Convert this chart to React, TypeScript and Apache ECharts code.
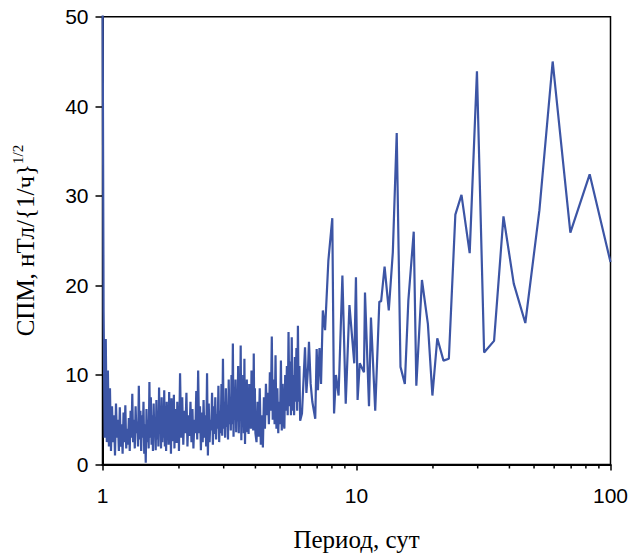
import { useEffect, useRef } from "react";
import * as echarts from "echarts";

// [period (days), spectral density]
const spectrum1to2: [number, number][] = [
  [1, 56], [1.01, 17], [1.02, 3], [1.03, 14], [1.04, 2.5], [1.05, 10.5], [1.06, 2], [1.07, 8.5], [1.08, 1.5], [1.09, 6.5],
  [1.1, 2.5], [1.11, 5.5], [1.12, 1], [1.13, 6.8], [1.14, 3], [1.15, 5], [1.16, 1.5], [1.17, 6.4], [1.18, 2], [1.19, 4.5],
  [1.2, 1.2], [1.21, 5.8], [1.22, 2.5], [1.23, 6.6], [1.24, 1.8], [1.25, 4], [1.26, 2.2], [1.27, 5.2], [1.28, 1.5], [1.29, 6],
  [1.3, 3], [1.31, 7.9], [1.32, 2.5], [1.33, 5], [1.34, 1.8], [1.35, 6.5], [1.36, 3.5], [1.37, 4.8], [1.38, 2], [1.39, 8.8],
  [1.4, 2.8], [1.41, 6], [1.42, 1.5], [1.43, 5.5], [1.44, 3], [1.45, 7], [1.46, 1.2], [1.47, 4.5], [1.48, 0.2], [1.49, 6.2],
  [1.5, 2.5], [1.51, 5], [1.52, 1.8], [1.53, 9.2], [1.54, 3], [1.55, 7.5], [1.56, 2.2], [1.57, 5.5], [1.58, 1.5], [1.59, 6.8],
  [1.6, 3.2], [1.61, 4.5], [1.62, 1.6], [1.63, 7.2], [1.64, 2.8], [1.65, 5.8], [1.66, 2], [1.67, 8.6], [1.68, 3.5], [1.69, 6],
  [1.7, 1.8], [1.71, 7.5], [1.72, 2.5], [1.73, 5], [1.74, 3], [1.75, 8.3], [1.76, 2], [1.77, 6.5], [1.78, 1.5], [1.79, 7],
  [1.8, 3.2], [1.81, 5.5], [1.82, 2.2], [1.83, 8.1], [1.84, 3.8], [1.85, 6], [1.86, 1.2], [1.87, 7.4], [1.88, 2.6], [1.89, 5.2],
  [1.9, 3], [1.91, 7.8], [1.92, 1.8], [1.93, 6.2], [1.94, 3.5], [1.95, 5], [1.96, 2.4], [1.97, 7], [1.98, 3], [1.99, 6],
  [2, 1.5],
];

const spectrum2to4: [number, number][] = [
  [2.02, 10.2], [2.04, 3], [2.06, 7.5], [2.08, 2.2], [2.1, 6], [2.12, 3.5], [2.14, 8], [2.16, 2], [2.18, 5.5], [2.2, 3.2],
  [2.22, 7], [2.24, 2.5], [2.26, 6.2], [2.28, 1.8], [2.3, 5], [2.32, 3.5], [2.34, 8.2], [2.36, 2.8], [2.38, 10.5], [2.4, 3.5],
  [2.42, 6.5], [2.44, 1.6], [2.46, 5.8], [2.48, 2.5], [2.5, 7.2], [2.52, 3], [2.54, 5.5], [2.56, 2], [2.58, 10.2], [2.6, 1],
  [2.62, 6.8], [2.64, 2.5], [2.66, 5], [2.68, 3.8], [2.7, 8], [2.72, 2.2], [2.74, 6.5], [2.76, 3.4], [2.78, 7.5], [2.8, 2.8],
  [2.82, 5.6], [2.84, 4], [2.86, 8.8], [2.88, 2.5], [2.9, 6], [2.92, 3.5], [2.94, 9], [2.96, 3.2], [2.98, 11.8], [3, 4],
  [3.02, 7], [3.04, 3], [3.06, 8.5], [3.08, 4.2], [3.1, 6.5], [3.12, 2.8], [3.14, 9.5], [3.16, 4.5], [3.18, 7.2], [3.2, 3.8],
  [3.22, 10], [3.24, 4.5], [3.26, 13.5], [3.28, 3.1], [3.3, 8], [3.32, 5], [3.34, 9.5], [3.36, 3.6], [3.38, 7.5], [3.4, 4.8],
  [3.42, 11], [3.44, 3.5], [3.46, 8.5], [3.48, 5.5], [3.5, 13.3], [3.52, 2.7], [3.54, 7.8], [3.56, 4.5], [3.58, 10], [3.6, 3.5],
  [3.62, 11.8], [3.64, 2.3], [3.66, 8], [3.68, 4.2], [3.7, 9.5], [3.72, 3.6], [3.74, 7], [3.76, 3.4], [3.78, 9], [3.8, 5],
  [3.82, 8], [3.84, 4], [3.86, 10.5], [3.88, 4.5], [3.9, 7.5], [3.92, 3.8], [3.94, 12.4], [3.96, 4.5], [3.98, 8.5], [4, 3.5],
];

const spectrum4to6: [number, number][] = [
  [4.04, 2.5], [4.08, 7], [4.12, 3.1], [4.16, 8.5], [4.2, 2.2], [4.24, 5.5], [4.28, 1.9], [4.32, 7.5], [4.36, 4], [4.4, 9],
  [4.44, 5.5], [4.48, 8], [4.52, 4.5], [4.56, 10.3], [4.6, 6], [4.64, 14.3], [4.68, 5], [4.72, 9.5], [4.76, 4.5], [4.8, 12.2],
  [4.84, 4], [4.88, 8.5], [4.92, 3.5], [4.96, 7], [5, 4.5], [5.04, 11.6], [5.08, 3.8], [5.12, 9], [5.16, 5], [5.2, 4],
  [5.24, 10], [5.28, 6], [5.32, 11], [5.36, 5.5], [5.4, 14.8], [5.44, 6.5], [5.48, 11.5], [5.52, 5.5], [5.56, 14.2], [5.6, 6],
  [5.64, 10], [5.68, 5.5], [5.72, 12], [5.76, 7], [5.8, 13], [5.84, 6], [5.88, 15.5], [5.92, 7], [5.96, 11], [6, 4.9],
];

const spectrum6to100: [number, number][] = [
  [6.1, 5.7], [6.2, 10], [6.27, 13.1], [6.35, 8], [6.45, 11], [6.5, 13.7], [6.6, 9], [6.7, 7], [6.88, 5.1], [6.97, 12.9],
  [7.05, 8.3], [7.15, 13], [7.25, 9], [7.37, 17.2], [7.52, 15], [7.75, 22.8], [8.03, 27.5], [8.16, 5.7], [8.3, 10], [8.5, 7.7],
  [8.8, 21.1], [9.07, 6.8], [9.38, 17.8], [9.8, 11.3], [9.95, 20.9], [10.1, 7.2], [10.3, 11.3], [10.7, 10.3], [10.8, 19.2], [11.2, 6.5],
  [11.4, 16.4], [11.85, 6], [12.3, 18.2], [12.5, 18.2], [12.9, 22.1], [13.4, 17.2], [13.9, 23.7], [14.4, 37], [14.9, 10.9], [15.5, 9],
  [16, 18.3], [16.8, 26], [17.2, 8.8], [18.1, 20.6], [19.1, 15.7], [19.9, 7.7], [20.8, 14.1], [22, 11.6], [23.1, 11.8], [24.5, 27.9],
  [25.9, 30.1], [27.9, 23.6], [29.8, 43.9], [31.8, 12.5], [34.8, 13.8], [37.9, 27.7], [41.6, 20.2], [46.2, 15.8], [52.5, 28.4], [59.2, 45],
  [69.5, 25.9], [82.8, 32.4], [100, 22.6],
];

const xMinorTicks = [2, 3, 4, 5, 6, 7, 8, 9, 20, 30, 40, 50, 60, 70, 80, 90];
const xTitle = "Период, сут";
const yTitle = "СПМ, нТл/{1/ч}{s|1/2}";

export default function App() {
  const ref = useRef<HTMLDivElement>(null);
  useEffect(() => {
    const chart = echarts.init(ref.current!, null, { renderer: "svg" });
    const data = [...spectrum1to2, ...spectrum2to4, ...spectrum4to6, ...spectrum6to100];
    chart.setOption({
      animation: false,
      backgroundColor: "#ffffff",
      grid: {
        left: 102.5,
        right: 19.5,
        top: 16.7,
        bottom: 88.5,
        outerBoundsMode: "none",
        containLabel: false,
        show: true,
        borderColor: "#000",
        borderWidth: 1.5,
        backgroundColor: "transparent",
      },
      xAxis: {
        type: "log",
        logBase: 10,
        min: 1,
        max: 100,
        axisLine: { show: true, lineStyle: { color: "#000", width: 2 } },
        axisTick: { show: true, length: 6, inside: false, lineStyle: { color: "#000", width: 1.5 } },
        axisLabel: { color: "#000", fontFamily: "Liberation Sans", fontSize: 21, margin: 20 },
        splitLine: { show: false },
        name: xTitle,
        nameLocation: "middle",
        nameGap: 62,
        nameTextStyle: { fontFamily: "Liberation Serif", fontSize: 25, color: "#000" },
      },
      yAxis: {
        type: "value",
        min: 0,
        max: 50,
        interval: 10,
        axisLine: { show: true, lineStyle: { color: "#000", width: 2 } },
        axisTick: { show: true, length: 7, inside: false, lineStyle: { color: "#000", width: 1.5 } },
        axisLabel: { color: "#000", fontFamily: "Liberation Sans", fontSize: 21, margin: 14 },
        splitLine: { show: false },
        name: yTitle,
        nameLocation: "middle",
        nameRotate: 90,
        nameGap: 62,
        nameTextStyle: {
          fontFamily: "Liberation Serif",
          fontSize: 25,
          color: "#000",
          lineHeight: 30,
          rich: {
            s: { fontFamily: "Liberation Serif", fontSize: 15, color: "#000", verticalAlign: "top", lineHeight: 16 },
          },
        },
      },
      series: [
        {
          type: "line",
          data,
          showSymbol: false,
          clip: true,
          lineStyle: { color: "#3c55a5", width: 2.2 },
          itemStyle: { color: "#3c55a5" },
          z: 3,
        },
        {
          type: "custom",
          data: xMinorTicks.map((v) => [v, 0]),
          clip: false,
          silent: true,
          z: 5,
          renderItem: (_params: any, api: any) => {
            const p = api.coord([api.value(0), api.value(1)]);
            return {
              type: "line",
              shape: { x1: p[0], y1: p[1], x2: p[0], y2: p[1] + 4 },
              style: { stroke: "#000", lineWidth: 1.5 },
            };
          },
        },
      ],
    });
    return () => chart.dispose();
  }, []);
  return (
    <div
      ref={ref}
      style={{ position: "fixed", left: 0, top: 0, width: 630, height: 553, background: "#fff" }}
    />
  );
}
